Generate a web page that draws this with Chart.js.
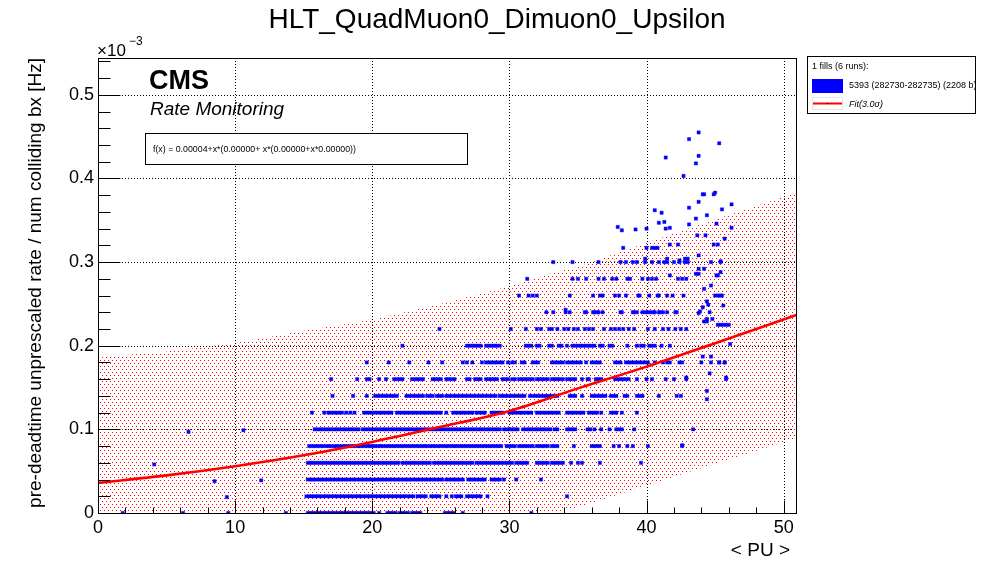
<!DOCTYPE html>
<html><head><meta charset="utf-8">
<script src="https://cdn.jsdelivr.net/npm/chart.js@4.4.1/dist/chart.umd.min.js"></script>
<style>html,body{margin:0;padding:0;background:#fff}#wrap{width:996px;height:572px;position:relative}canvas{display:block}</style>
</head><body><div id="wrap"><canvas id="c" width="996" height="572"></canvas></div>
<script>
const titleText = 'HLT_QuadMuon0_Dimuon0_Upsilon';
const xTitle = '< PU >';
const yTitle = 'pre-deadtime unprescaled rate / num colliding bx [Hz]';
const xTicks = [0, 10, 20, 30, 40, 50];
const yTicks = [0, 0.1, 0.2, 0.3, 0.4, 0.5];
const legendHeader = '1 fills (6 runs):';
const legendData = '5393 (282730-282735) (2208 b)';
const legendFit = 'Fit(3.0\u03c3)';
const fitFormula = 'f(x) = 0.00004+x*(0.00000+ x*(0.00000+x*0.00000))';

// rate levels (x10^-3 Hz) and the <PU> values read at each level
const rateLevels = [0, 0.02, 0.04, 0.06, 0.08, 0.10, 0.12, 0.14, 0.16, 0.18, 0.20, 0.22, 0.24, 0.26, 0.28, 0.30];
const puRow0 = [1.8,6.2,9.5,13.7,15.3,15.5,15.7,15.9,16.1,16.3,16.5,16.7,16.9,17.1,17.3,17.5,17.7,17.9,18.1,18.3,18.5,18.7,18.9,19.1,19.3,19.5,19.7,19.9,20.1,20.5,21.1,21.3,21.5,21.7,22.0,22.2,22.4,22.6,22.9,23.1,23.3,23.5,25.3,25.5,25.7,25.9,26.6,31.6];
const puRow1 = [15.2,15.4,15.6,15.8,16.0,16.2,16.4,16.6,16.8,17.0,17.2,17.4,17.6,17.8,18.0,18.2,18.4,18.6,18.8,19.0,19.2,19.4,19.6,19.8,20.0,20.2,20.4,20.6,20.8,21.0,21.2,21.4,21.6,21.8,22.0,22.2,22.4,22.6,22.8,23.0,23.3,23.5,23.7,23.9,24.3,24.5,24.7,24.9,25.4,25.8,26.1,26.3,26.5,26.9,27.1,27.3,27.5,27.7,27.9,28.4,34.2];
const puRow2 = [15.3,15.5,15.7,15.9,16.1,16.3,16.5,16.7,16.9,17.1,17.3,17.5,17.7,17.9,18.1,18.3,18.5,18.7,18.9,19.1,19.3,19.5,19.7,19.9,20.1,20.3,20.5,20.7,20.9,21.1,21.3,21.5,21.7,21.9,22.1,22.3,22.5,22.7,22.9,23.1,23.3,23.5,23.7,23.9,24.1,24.3,24.5,24.7,24.9,25.1,25.4,25.6,25.8,26.0,26.2,26.4,26.6,27.0,27.2,27.4,27.6,27.8,28.0,28.2,28.7,28.9,29.1,29.3,29.6,30.5,32.3];
const puRow3 = [15.3,15.5,15.7,15.9,16.1,16.3,16.5,16.7,16.9,17.1,17.3,17.5,17.7,17.9,18.1,18.3,18.5,18.7,18.9,19.1,19.3,19.5,19.7,19.9,20.1,20.3,20.5,20.7,20.9,21.1,21.3,21.5,21.7,21.9,22.2,22.4,22.6,22.8,23.0,23.2,23.4,23.6,23.8,24.0,24.2,24.5,24.7,24.9,25.1,25.3,25.5,25.7,25.9,26.1,26.3,26.5,26.7,26.9,27.1,27.3,27.6,27.8,28.0,28.2,28.4,28.6,28.8,29.0,29.2,29.4,29.6,29.8,30.0,30.2,30.5,30.7,30.9,31.1,31.3,32.0,32.2,32.4,32.6,32.8,33.1,33.3,33.5,33.7,33.9,34.5,35.0,35.3,36.6,39.6];
const puRow4 = [15.4,15.6,15.8,16.0,16.2,16.4,16.6,16.8,17.0,17.2,17.4,17.6,17.8,18.0,18.2,18.4,18.6,18.8,19.0,19.2,19.4,19.6,19.8,20.0,20.2,20.4,20.6,20.8,21.0,21.2,21.4,21.6,21.8,22.0,22.2,22.4,22.6,22.8,23.0,23.2,23.4,23.6,23.8,24.0,24.2,24.4,24.6,24.8,25.0,25.2,25.4,25.6,25.8,26.0,26.2,26.4,26.6,26.8,27.0,27.2,27.4,27.6,27.8,28.0,28.2,28.4,28.6,28.8,29.0,29.2,29.4,29.8,30.0,30.2,30.4,30.7,30.9,31.1,31.3,31.5,31.7,32.0,32.2,32.4,32.6,32.8,33.1,33.3,33.5,34.7,36.0,36.2,36.4,36.6,37.6,38.0,38.6,39.0,40.1,42.6];
const puRow5 = [15.8,16.0,16.2,16.4,16.6,16.8,17.0,17.2,17.4,17.6,17.8,18.0,18.2,18.4,18.6,18.8,19.0,19.3,19.5,19.7,19.9,20.1,20.3,20.5,20.7,20.9,21.1,21.3,21.5,21.7,21.9,22.1,22.3,22.5,22.7,22.9,23.1,23.3,23.5,23.7,23.9,24.1,24.3,24.5,24.7,24.9,25.1,25.3,25.5,25.7,25.9,26.1,26.3,26.5,26.7,26.9,27.1,27.3,27.5,27.7,27.9,28.1,28.3,28.5,28.7,28.9,29.1,29.3,29.6,29.8,30.0,30.2,30.4,30.6,31.0,31.2,31.4,31.6,31.8,32.0,32.2,32.4,32.6,32.8,33.0,33.3,33.5,34.2,34.4,34.6,34.8,35.7,35.9,36.2,36.7,37.3,37.8,38.0,38.2,39.1,43.4];
const puRow6 = [15.6,16.5,16.8,17.0,17.2,17.4,17.6,17.8,18.1,18.4,18.7,19.4,19.6,19.8,20.0,20.2,20.4,20.6,20.8,21.0,21.2,21.4,21.8,22.0,22.2,22.4,22.6,22.8,23.0,23.2,23.4,23.6,23.8,24.0,24.2,24.4,24.6,24.8,25.0,25.4,25.9,26.1,26.3,26.5,26.7,26.9,27.1,27.3,27.6,27.8,28.0,28.2,28.7,28.9,29.1,29.3,29.5,30.0,30.2,30.4,30.6,30.8,31.0,31.2,31.4,31.6,32.0,32.2,32.4,32.6,32.8,33.0,33.2,33.4,33.6,34.2,34.4,34.6,34.8,35.0,35.2,35.4,35.8,36.0,36.2,36.4,36.7,37.4,37.6,37.8,38.2,39.3];
const puRow7 = [17.1,18.6,19.6,20.2,20.4,20.6,20.8,21.0,21.2,21.4,21.6,21.8,22.5,22.7,22.9,23.1,23.3,23.5,23.7,24.0,24.2,24.4,24.7,24.9,25.1,25.4,25.6,25.8,26.0,26.2,26.4,26.6,26.8,27.0,27.2,27.4,27.6,27.8,28.0,28.2,28.4,28.6,28.8,29.0,29.3,29.5,29.7,29.9,30.1,30.3,30.5,30.7,30.9,31.1,31.5,31.7,31.9,32.1,32.3,32.5,32.7,32.9,33.1,33.3,33.5,34.4,34.6,34.8,35.3,36.0,36.2,36.4,36.6,36.8,37.0,37.4,37.6,37.8,38.4,38.6,39.3,39.5,39.7,40.9,42.2,42.5];
const puRow8 = [17.0,18.9,19.6,19.8,20.5,21.0,21.6,21.8,22.0,22.2,22.9,23.1,23.3,23.5,23.7,24.4,24.6,24.8,25.0,25.4,25.6,25.8,26.0,26.9,27.1,27.5,27.7,27.9,28.3,28.5,28.7,28.9,29.1,29.5,29.7,29.9,30.2,30.4,30.7,30.9,31.1,31.3,31.5,31.7,32.0,32.2,32.4,32.6,32.8,33.1,33.3,33.5,33.7,33.9,34.2,34.4,34.6,34.8,35.3,35.7,35.8,36.3,36.5,36.7,37.7,37.9,38.1,38.3,38.5,38.7,39.3,40.0,40.4,41.4,42.0,42.9,45.8];
const puRow9 = [19.6,21.2,22.7,24.1,25.1,26.6,26.9,27.3,28.0,28.3,28.5,28.7,28.9,29.1,29.3,29.5,29.9,30.2,30.4,30.9,31.1,31.7,31.9,32.1,33.1,33.3,33.5,33.7,33.9,34.2,34.4,34.6,34.8,35.0,35.2,35.6,36.0,36.2,36.4,36.6,37.7,37.9,38.1,38.5,38.7,38.9,39.1,39.3,39.5,39.7,39.9,40.1,40.6,41.2,41.5,41.7,42.4,42.6,44.0,44.7,45.3,45.7];
const puRow10 = [22.2,26.9,27.1,27.3,27.5,27.7,27.9,28.3,28.5,28.7,28.9,29.1,29.3,31.2,31.4,31.6,32.0,32.2,32.9,33.1,33.6,33.8,34.2,34.6,34.8,35.0,35.2,35.4,35.6,35.8,36.0,36.2,36.6,36.8,37.3,37.5,38.6,39.3,39.6,39.8,40.2,40.4,40.6,41.1,41.7];
const puRow11 = [24.9,30.1,31.2,32.0,32.3,32.9,33.1,33.5,34.0,34.3,34.7,35.0,35.5,35.8,36.1,36.9,37.4,37.7,38.0,38.3,38.7,39.1,40.1,40.6,41.2,41.6,42.1,42.5,42.9];
const puRow12 = [32.7,33.2,34.1,34.4,35.5,35.6,36.1,36.2,36.4,36.5,36.8,38.1,38.2,39.0,39.1,39.3,39.7,39.9,40.1,40.3,40.5,40.6,40.9,41.0,41.2,41.5,42.1,42.2,44.6];
const puRow13 = [30.7,31.4,31.7,32.0,34.4,36.1,36.6,36.8,37.7,38.0,38.5,39.4,39.5,40.2,40.8,40.9,41.5,41.9,42.7,45.0,45.2,45.4,45.5];
const puRow14 = [31.3,34.6,35.0,35.6,36.5,36.9,37.5,37.8,38.6,38.8,39.7,40.1,40.4,40.7,42.3,42.6,42.9];
const puRow15 = [33.2,34.6,36.5,38.1,38.5,39.0,39.3,39.9,40.4,40.9,41.3,41.5,42.0,42.4,42.8,43.0,44.7,45.4];
const puRows = [puRow0,puRow1,puRow2,puRow3,puRow4,puRow5,puRow6,puRow7,puRow8,puRow9,puRow10,puRow11,puRow12,puRow13,puRow14,puRow15];

// isolated points off the main levels
const extraPU   = [9.4,8.5,11.9,4.1,6.6,10.6,37.9,38.2,39.2,40.0,40.6,41.1,40.9,41.3,41.4,41.7,41.4,42.7,43.1,43.8,43.8,43.6,45.3,44.1,44.2,44.9,45.0,43.8,43.1,45.5,46.2,44.4,43.6,43.1,45.1,46.2,43.7,44.3,45.7,38.3,40.0,40.4,40.6,40.8,41.7,42.3,44.9,45.2,43.8,42.8,43.0,39.9,41.5,42.4,45.4,43.8,44.2,43.6,43.8,45.4,45.1,45.2,41.7,44.7,44.2,44.4,44.5,44.1,43.9,43.8,45.6,44.2,44.4,45.2,45.4,45.6,45.8,46.0,46.1,44.1,44.7,45.3,45.7,44.6,42.9,45.8,44.4,44.4,42.6,44.4,44.8,34.1];
const extraRate = [0.019,0.038,0.039,0.058,0.097,0.099,0.342,0.338,0.339,0.340,0.362,0.359,0.347,0.348,0.340,0.341,0.425,0.403,0.447,0.455,0.427,0.418,0.442,0.381,0.381,0.381,0.383,0.372,0.365,0.363,0.369,0.356,0.352,0.345,0.346,0.341,0.332,0.332,0.328,0.317,0.317,0.317,0.317,0.317,0.321,0.321,0.321,0.321,0.308,0.304,0.304,0.304,0.304,0.302,0.301,0.292,0.292,0.286,0.286,0.288,0.284,0.284,0.284,0.272,0.268,0.253,0.249,0.246,0.241,0.239,0.248,0.229,0.229,0.225,0.225,0.225,0.225,0.225,0.202,0.187,0.187,0.180,0.180,0.167,0.162,0.162,0.146,0.136,0.081,0.232,0.232,0.243];

// fit curve and its 3 sigma band
const fitPU   = [0, 5, 10, 15, 20, 25, 30, 35, 40, 45, 51];
const fitRate = [0.036, 0.045, 0.056, 0.069, 0.085, 0.103, 0.122, 0.149, 0.175, 0.203, 0.237];
const bandPU    = [0, 5, 10, 15, 20, 25, 30, 33.6, 35, 40, 45, 51];
const bandUpper = [0.186, 0.193, 0.203, 0.218, 0.231, 0.250, 0.271, 0.289, 0.294, 0.323, 0.351, 0.383];
const bandLower = [0, 0, 0, 0, 0, 0, 0, 0, 0.007, 0.033, 0.059, 0.090];

const FONT = "'Liberation Sans', Arial, Helvetica, sans-serif";

const pts = [];
puRows.forEach((row, i) => row.forEach(p => pts.push({x: p, y: rateLevels[i]})));
extraPU.forEach((p, i) => pts.push({x: p, y: extraRate[i]}));
const fitPts = fitPU.map((p, i) => ({x: p, y: fitRate[i]}));
const upPts = bandPU.map((p, i) => ({x: p, y: bandUpper[i]}));
const loPts = bandPU.map((p, i) => ({x: p, y: bandLower[i]}));

// sparse staggered red-dot fill pattern of the band
const tile = document.createElement('canvas');
tile.width = 4; tile.height = 6;
const tctx = tile.getContext('2d');
tctx.fillStyle = '#ff0000';
tctx.fillRect(0, 0, 1, 1);
tctx.fillRect(2, 3, 1, 1);
const ctx0 = document.getElementById('c').getContext('2d');
const bandPattern = ctx0.createPattern(tile, 'repeat');

const decor = {
  id: 'decor',
  beforeDatasetsDraw(chart) {
    const {ctx, chartArea: a, scales: {x, y}} = chart;
    ctx.save();
    ctx.strokeStyle = '#000'; ctx.lineWidth = 1; ctx.setLineDash([1, 2]);
    xTicks.forEach(v => {
      if (v === 0) return;
      const px = Math.round(x.getPixelForValue(v)) + 0.5;
      ctx.beginPath(); ctx.moveTo(px, a.top); ctx.lineTo(px, a.bottom); ctx.stroke();
    });
    yTicks.forEach(v => {
      if (v === 0) return;
      const py = Math.round(y.getPixelForValue(v)) + 0.5;
      ctx.beginPath(); ctx.moveTo(a.left, py); ctx.lineTo(a.right, py); ctx.stroke();
    });
    ctx.restore();
  },
  afterDatasetsDraw(chart) {
    const {ctx, chartArea: a, scales: {x, y}} = chart;
    ctx.save();
    ctx.strokeStyle = '#000'; ctx.lineWidth = 1; ctx.setLineDash([]);
    const L = Math.round(a.left) + 0.5, R = Math.round(a.right) + 0.5;
    const T = Math.round(a.top) + 0.5, B = Math.round(a.bottom) + 0.5;
    ctx.strokeRect(L, T, R - L, B - T);
    ctx.beginPath();
    for (let k = 0; k * 0.02 <= y.max + 1e-9; k++) {
      const v = k * 0.02;
      const py = Math.round(y.getPixelForValue(v)) + 0.5;
      const len = (k % 5 === 0) ? 22 : 12;
      ctx.moveTo(L, py); ctx.lineTo(L + len, py);
    }
    for (let k = 0; k * 2 <= x.max + 1e-9; k++) {
      const v = k * 2;
      const px = Math.round(x.getPixelForValue(v)) + 0.5;
      const len = (k % 5 === 0) ? 13 : 6;
      ctx.moveTo(px, B); ctx.lineTo(px, B - len);
    }
    ctx.stroke();
    ctx.restore();
  },
  afterDraw(chart) {
    const {ctx, chartArea: a} = chart;
    ctx.save();
    ctx.fillStyle = '#000';
    // title, centred on the page
    ctx.font = '28px ' + FONT;
    ctx.textAlign = 'center'; ctx.textBaseline = 'middle';
    ctx.fillText(titleText, 497, 20);
    // x axis title, right aligned near the axis end
    ctx.font = '19px ' + FONT;
    ctx.textAlign = 'right'; ctx.textBaseline = 'alphabetic';
    ctx.fillText(xTitle, a.right - 6, 556);
    ctx.textAlign = 'left';
    // exponent label
    ctx.font = '17px ' + FONT;
    ctx.fillText('\u00d710', 97, 56);
    ctx.font = '12px ' + FONT;
    ctx.fillText('\u22123', 129, 45);
    // CMS label
    ctx.font = 'bold 27px ' + FONT;
    ctx.fillText('CMS', 149, 89);
    ctx.font = 'italic 19px ' + FONT;
    ctx.fillText('Rate Monitoring', 150, 115);
    // fit formula box
    ctx.fillStyle = '#fff';
    ctx.fillRect(145.5, 133.5, 322, 31);
    ctx.strokeStyle = '#000'; ctx.lineWidth = 1;
    ctx.strokeRect(145.5, 133.5, 322, 31);
    ctx.fillStyle = '#000';
    ctx.font = '8.8px ' + FONT;
    ctx.textBaseline = 'middle';
    ctx.fillText(fitFormula, 153, 150);
    // legend
    ctx.fillStyle = '#fff';
    ctx.fillRect(807.5, 56.5, 168, 57);
    ctx.strokeRect(807.5, 56.5, 168, 57);
    ctx.save();
    ctx.beginPath(); ctx.rect(808, 57, 167, 56); ctx.clip();
    ctx.fillStyle = '#000';
    ctx.font = '9px ' + FONT;
    ctx.fillText(legendHeader, 812, 67);
    ctx.fillStyle = '#0000ff';
    ctx.fillRect(812, 79, 31, 14);
    ctx.fillStyle = '#000';
    ctx.fillText(legendData, 849, 86);
    ctx.strokeStyle = '#e6e6e6';
    ctx.strokeRect(812.5, 97.5, 30, 12);
    ctx.strokeStyle = '#ff0000'; ctx.lineWidth = 2;
    ctx.beginPath(); ctx.moveTo(813, 103.5); ctx.lineTo(842, 103.5); ctx.stroke();
    ctx.fillStyle = '#000';
    ctx.fillRect(827, 103, 1, 1);
    ctx.font = 'italic 9px ' + FONT;
    ctx.fillText(legendFit, 849, 104);
    ctx.restore();
    ctx.restore();
  }
};

new Chart(document.getElementById('c'), {
  type: 'scatter',
  data: {
    datasets: [
      { type: 'line', label: 'Fit', data: fitPts, borderColor: '#ff0000', borderWidth: 2.6,
        pointRadius: 0, fill: false, cubicInterpolationMode: 'monotone' },
      { type: 'scatter', label: '5393', data: pts, pointStyle: 'rect', pointRadius: 2.3,
        backgroundColor: '#0000ff', borderColor: '#0000ee', borderWidth: 0.4 },
      { type: 'line', label: 'low', data: loPts, borderWidth: 0, borderColor: 'rgba(0,0,0,0)',
        pointRadius: 0, fill: false },
      { type: 'line', label: 'up', data: upPts, borderWidth: 0, borderColor: 'rgba(0,0,0,0)',
        pointRadius: 0, fill: '-1', backgroundColor: bandPattern }
    ]
  },
  options: {
    responsive: false, animation: false, devicePixelRatio: 1,
    layout: { padding: { left: 0, right: 200, top: 58, bottom: 0 } },
    plugins: {
      legend: { display: false }, tooltip: { enabled: false }, title: { display: false }
    },
    scales: {
      x: {
        type: 'linear', min: 0, max: 50.9,
        afterBuildTicks: s => { s.ticks = xTicks.map(v => ({value: v})); },
        afterFit: s => { s.height = 59; },
        grid: { display: false, drawTicks: false },
        border: { display: false },
        ticks: { color: '#000', font: { family: FONT, size: 18 }, padding: 4, maxRotation: 0, autoSkip: false,
          callback: v => String(v) },
        title: { display: false }
      },
      y: {
        type: 'linear', min: 0, max: 0.544,
        afterBuildTicks: s => { s.ticks = yTicks.map(v => ({value: v})); },
        afterFit: s => { s.width = 98; },
        grid: { display: false, drawTicks: false },
        border: { display: false },
        ticks: { color: '#000', font: { family: FONT, size: 18 }, padding: 4,
          callback: v => (v === 0 ? '0' : v.toFixed(1)) },
        title: { display: true, text: yTitle, align: 'end', color: '#000',
          font: { family: FONT, size: 19 }, padding: { top: 24, bottom: 0 } }
      }
    }
  },
  plugins: [decor]
});
</script>
</body></html>
